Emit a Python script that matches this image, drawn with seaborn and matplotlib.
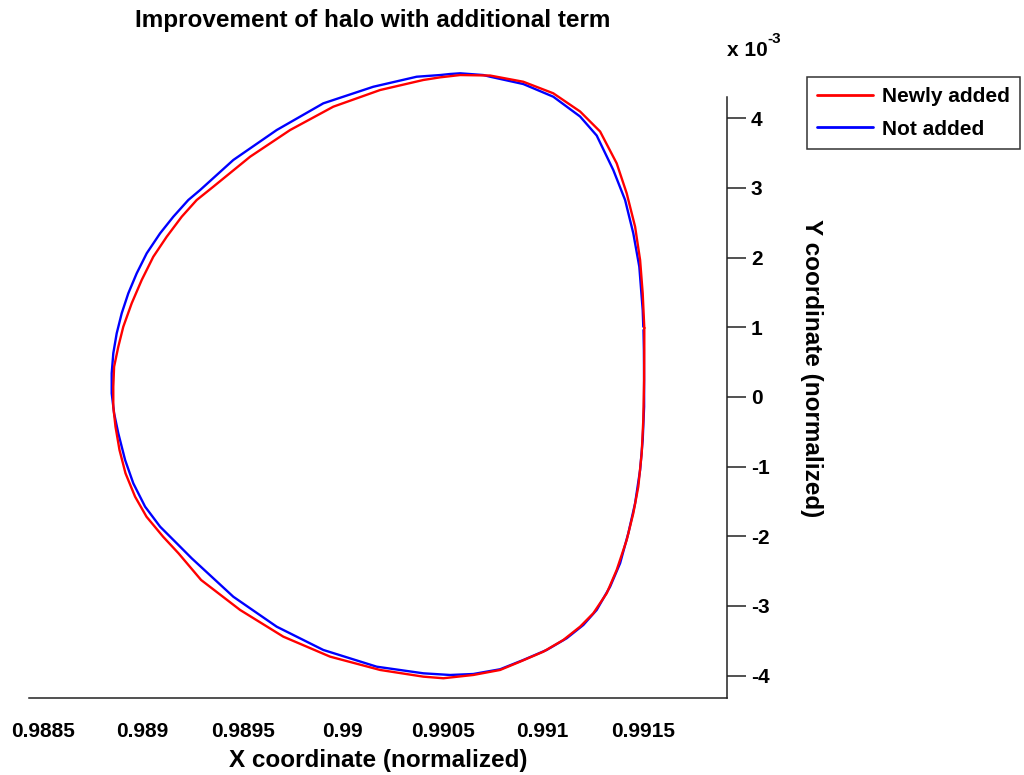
import numpy as np
import pandas as pd
import matplotlib
matplotlib.use("Agg")
import matplotlib.pyplot as plt
from matplotlib.ticker import FixedLocator, FuncFormatter
import seaborn as sns

# ---------------- data ----------------
series_names = ["Newly added", "Not added"]
series_colors = ["#FF0000", "#0000FF"]

# "Newly added" trajectory: X (normalized), Y (normalized, in units of 1e-3)
x_new = [0.991508, 0.9915, 0.991487, 0.991462, 0.99142, 0.99137, 0.991287,
         0.991187, 0.991053, 0.990903, 0.990737, 0.990587, 0.990487, 0.990403,
         0.990187, 0.989953, 0.989737, 0.989537, 0.989353, 0.98927, 0.989195,
         0.98912, 0.989053, 0.988995, 0.988945, 0.988903, 0.988878, 0.988857,
         0.988853, 0.988853, 0.988864, 0.988884, 0.988914, 0.988962, 0.989019,
         0.989102, 0.989179, 0.989292, 0.989487, 0.989703, 0.989937, 0.990187,
         0.990403, 0.990503, 0.990653, 0.990787, 0.990887, 0.991003, 0.991103,
         0.991187, 0.991253, 0.99132, 0.99137, 0.99142, 0.991453, 0.991478,
         0.991495, 0.991503, 0.991507, 0.991508, 0.991508]
y_new_e3 = [0.989, 1.486, 1.964, 2.442, 2.921, 3.351, 3.808,
            4.095, 4.356, 4.522, 4.611, 4.618, 4.585, 4.547,
            4.403, 4.164, 3.829, 3.446, 3.016, 2.825, 2.585,
            2.298, 2.011, 1.677, 1.343, 1.007, 0.720, 0.433,
            0.146, -0.141, -0.428, -0.762, -1.096, -1.432, -1.719,
            -2.006, -2.244, -2.627, -3.057, -3.440, -3.727, -3.918,
            -4.014, -4.037, -3.990, -3.918, -3.799, -3.656, -3.488,
            -3.297, -3.105, -2.818, -2.483, -2.053, -1.670, -1.288,
            -0.809, -0.331, 0.242, 0.745, 0.989]

# "Not added" trajectory
x_old = [0.991503, 0.9915, 0.991483, 0.991453, 0.991412, 0.991353, 0.99127,
         0.991187, 0.991053, 0.990903, 0.990737, 0.990703, 0.990587, 0.990537,
         0.990487, 0.99037, 0.990153, 0.989903, 0.98967, 0.989453, 0.989287,
         0.989228, 0.989153, 0.989087, 0.98902, 0.98897, 0.988928, 0.988895,
         0.98887, 0.988853, 0.988845, 0.988845, 0.988857, 0.988878, 0.988912,
         0.988953, 0.989012, 0.989087, 0.98917, 0.989245, 0.989453, 0.98967,
         0.989903, 0.99017, 0.990403, 0.990537, 0.990653, 0.990787, 0.990903,
         0.99102, 0.99112, 0.991203, 0.99127, 0.991337, 0.991387, 0.991428,
         0.991462, 0.991487, 0.9915, 0.991507, 0.991507, 0.991506, 0.991504]
y_old_e3 = [1.007, 1.247, 1.868, 2.347, 2.825, 3.255, 3.750,
            4.023, 4.307, 4.489, 4.594, 4.618, 4.643, 4.633,
            4.618, 4.594, 4.450, 4.212, 3.829, 3.399, 2.968,
            2.825, 2.585, 2.347, 2.060, 1.773, 1.486, 1.199,
            0.912, 0.626, 0.339, 0.052, -0.235, -0.522, -0.905,
            -1.240, -1.575, -1.862, -2.100, -2.316, -2.867, -3.297,
            -3.631, -3.871, -3.966, -3.990, -3.976, -3.908, -3.775,
            -3.631, -3.463, -3.273, -3.057, -2.723, -2.387, -1.957,
            -1.527, -1.049, -0.618, -0.141, 0.242, 0.673, 0.960]

x_ticks = [0.9885, 0.989, 0.9895, 0.99, 0.9905, 0.991, 0.9915]
y_ticks = [-4, -3, -2, -1, 0, 1, 2, 3, 4]

title = "Improvement of halo with additional term"
x_label = "X coordinate (normalized)"
y_label = "Y coordinate (normalized)"

# ---------------- style ----------------
sns.set_style("white")
plt.rcParams["font.family"] = ["Liberation Sans", "DejaVu Sans"]
plt.rcParams["font.weight"] = "bold"
plt.rcParams["axes.unicode_minus"] = False
plt.rcParams["text.color"] = "black"
plt.rcParams["axes.labelcolor"] = "black"

W, H = 1024, 775
fig = plt.figure(figsize=(W / 100, H / 100), dpi=100)
ax = fig.add_axes([29.3 / W, 1 - 697.7 / H, (727.3 - 29.3) / W, (697.7 - 97.0) / H])

df_new = pd.DataFrame({"x": x_new, "y": y_new_e3})
df_old = pd.DataFrame({"x": x_old, "y": y_old_e3})

sns.lineplot(data=df_old, x="x", y="y", sort=False, estimator=None,
             color=series_colors[1], lw=1.7, ax=ax, legend=False)
sns.lineplot(data=df_new, x="x", y="y", sort=False, estimator=None,
             color=series_colors[0], lw=1.7, ax=ax, legend=False)
line_old, line_new = ax.lines[0], ax.lines[1]
for ln in (line_old, line_new):
    ln.set_clip_on(False)
    ln.set_solid_joinstyle("round")
    ln.set_solid_capstyle("round")

ax.set_xlim(0.988433, 0.991923)
ax.set_ylim(-4.316, 4.303)

ax.xaxis.set_major_locator(FixedLocator(x_ticks))
ax.xaxis.set_major_formatter(FuncFormatter(lambda v, p: f"{v:g}"))
ax.yaxis.set_major_locator(FixedLocator(y_ticks))
ax.yaxis.set_major_formatter(FuncFormatter(lambda v, p: f"{v:g}"))
ax.yaxis.tick_right()

for side in ["top", "left"]:
    ax.spines[side].set_visible(False)
for side in ["bottom", "right"]:
    ax.spines[side].set_visible(True)
    ax.spines[side].set_linewidth(1.1)
    ax.spines[side].set_color("#222222")

ax.tick_params(axis="both", direction="out", length=13.5, width=1.1,
               color="#222222", labelsize=15, labelcolor="black")
ax.tick_params(axis="x", pad=4)
ax.tick_params(axis="y", pad=3.5)
for lab in ax.get_xticklabels() + ax.get_yticklabels():
    lab.set_fontweight("bold")

ax.set_xlabel(x_label, fontsize=17.5, fontweight="bold", color="black")
ax.xaxis.set_label_coords(0.5, (697.7 - 760) / 600.7)
ax.xaxis.label.set_verticalalignment("center")

ax.yaxis.set_label_position("right")
ax.set_ylabel(y_label, fontsize=17.5, fontweight="bold", color="black")
ax.yaxis.label.set(rotation=-90, va="center", ha="center", rotation_mode="anchor")
ax.yaxis.set_label_coords((812 - 29.3) / 698.0, (697.7 - 368) / 600.7)

fig.text(373 / W, 1 - 20 / H, title, ha="center", va="center",
         fontsize=17.5, fontweight="bold", color="black")

# MATLAB-style exponent label
fig.text(727 / W, 1 - 56 / H, "x 10", ha="left", va="baseline",
         fontsize=15, fontweight="bold", color="black")
fig.text(767 / W, 1 - 43 / H, "-3", ha="left", va="baseline",
         fontsize=11, fontweight="bold", color="black")

leg = ax.legend([line_new, line_old], series_names, loc="upper left",
                bbox_to_anchor=(806.7 / W, 1 - 76.7 / H),
                bbox_transform=fig.transFigure, borderaxespad=0,
                fontsize=15, handlelength=2.7, handletextpad=0.4,
                borderpad=0.5, labelspacing=0.65, frameon=True,
                fancybox=False, edgecolor="#333333", facecolor="white",
                framealpha=1)
leg.get_frame().set_linewidth(1.1)
for t in leg.get_texts():
    t.set_fontweight("bold")
    t.set_color("black")
for h in leg.legend_handles:
    h.set_linewidth(2.0)

fig.savefig("out.png", dpi=100)
